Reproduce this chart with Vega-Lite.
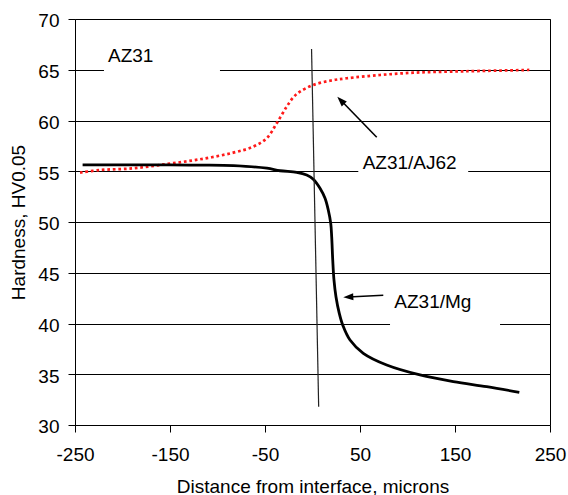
{
  "$schema": "https://vega.github.io/schema/vega-lite/v6.json",
  "width": 475,
  "height": 406,
  "autosize": {"type": "none"},
  "padding": {"left": 75, "top": 19, "right": 18, "bottom": 70},
  "background": "white",
  "config": {
    "view": {"stroke": "black", "strokeWidth": 1},
    "font": "Liberation Sans"
  },
  "datasets": {
    "mg": [
      {"x": -242, "y": 55.62}, {"x": -200, "y": 55.62}, {"x": -150, "y": 55.62},
      {"x": -118, "y": 55.6}, {"x": -83, "y": 55.55}, {"x": -48, "y": 55.3},
      {"x": -34.2, "y": 55.05}, {"x": -16.6, "y": 54.9}, {"x": -6.1, "y": 54.63},
      {"x": 0.8, "y": 54.21}, {"x": 7.9, "y": 53.32}, {"x": 13.2, "y": 52.33},
      {"x": 16.6, "y": 51.18}, {"x": 19.2, "y": 49.87}, {"x": 20.2, "y": 48.55},
      {"x": 21.3, "y": 46.26}, {"x": 22.6, "y": 44.29}, {"x": 24.7, "y": 42.64},
      {"x": 28.2, "y": 41.0}, {"x": 32, "y": 39.8}, {"x": 39.5, "y": 38.37},
      {"x": 53.5, "y": 37.06}, {"x": 78.1, "y": 35.91},
      {"x": 113.2, "y": 34.93}, {"x": 148.2, "y": 34.27}, {"x": 183.4, "y": 33.77},
      {"x": 217.7, "y": 33.22}
    ],
    "aj62": [
      {"x": -244.7, "y": 54.86}, {"x": -223.7, "y": 55.12}, {"x": -188.6, "y": 55.29},
      {"x": -153.5, "y": 55.71}, {"x": -118.4, "y": 56.18}, {"x": -83.4, "y": 56.83},
      {"x": -62.3, "y": 57.43}, {"x": -48.2, "y": 58.25}, {"x": -37.7, "y": 59.72},
      {"x": -27.2, "y": 61.36}, {"x": -20, "y": 62.3}, {"x": -13.2, "y": 62.84},
      {"x": 0.8, "y": 63.5}, {"x": 18.4, "y": 63.92}, {"x": 36, "y": 64.16},
      {"x": 71.1, "y": 64.48}, {"x": 106.1, "y": 64.71}, {"x": 141.3, "y": 64.81},
      {"x": 176.3, "y": 64.88}, {"x": 228.2, "y": 64.98}
    ],
    "interface": [
      {"x": -1, "y": 67.04, "x2": 6.5, "y2": 31.8}
    ],
    "arrows": [
      {"x": 67.6, "y": 58.35, "x2": 29.8, "y2": 61.99, "hx": 26.1, "hy": 62.34, "ang": 316},
      {"x": 74.5, "y": 42.78, "x2": 37.7, "y2": 42.61, "hx": 32.4, "hy": 42.58, "ang": 267}
    ],
    "boxes": [
      {"x": -219.5, "x2": -97.4, "y": 63.5, "y2": 67.5},
      {"x": 48.2, "x2": 163.9, "y": 54.3, "y2": 57.3},
      {"x": 81.6, "x2": 197.4, "y": 38.6, "y2": 44.3}
    ],
    "labels": [
      {"x": -215.3, "y": 65.79, "text": "AZ31"},
      {"x": 52.8, "y": 55.19, "text": "AZ31/AJ62"},
      {"x": 86.1, "y": 41.5, "text": "AZ31/Mg"}
    ]
  },
  "encoding": {
    "x": {
      "field": "x", "type": "quantitative",
      "scale": {"domain": [-250, 250], "nice": false, "zero": false},
      "axis": {
        "title": "Distance from interface, microns",
        "values": [-250, -150, -50, 50, 150, 250],
        "labelExpr": "datum.value + ''",
        "grid": false, "domain": false,
        "tickSize": 7, "tickColor": "black", "tickWidth": 1,
        "labelFontSize": 19, "labelColor": "black", "labelPadding": 13.5,
        "labelFlush": false, "labelOverlap": false, "labelBound": false,
        "titleFontSize": 19, "titleFontWeight": "normal", "titleColor": "black",
        "titleY": 67, "titleBaseline": "alphabetic"
      }
    },
    "y": {
      "field": "y", "type": "quantitative",
      "scale": {"domain": [30, 70], "nice": false, "zero": false},
      "axis": {
        "title": "Hardness, HV0.05",
        "values": [30, 35, 40, 45, 50, 55, 60, 65, 70],
        "grid": true, "gridColor": "black", "gridWidth": 1, "gridOpacity": 1,
        "domain": false,
        "tickSize": 7, "tickColor": "black", "tickWidth": 1,
        "labelFontSize": 19, "labelColor": "black", "labelPadding": 9,
        "labelBaseline": "alphabetic", "labelOffset": 7.8,
        "labelFlush": false, "labelOverlap": false, "labelBound": false,
        "titleFontSize": 19, "titleFontWeight": "normal", "titleColor": "black",
        "titleX": -57, "titleY": 203, "titleBaseline": "middle", "titleAngle": -90
      }
    }
  },
  "layer": [
    {
      "data": {"name": "boxes"},
      "mark": {"type": "rect", "fill": "white", "stroke": null},
      "encoding": {"x2": {"field": "x2"}, "y2": {"field": "y2"}}
    },
    {
      "data": {"name": "aj62"},
      "mark": {"type": "line", "color": "#ff1a1a", "strokeWidth": 2.7, "strokeDash": [2.7, 2.8], "strokeCap": "butt", "interpolate": "catmull-rom"}
    },
    {
      "data": {"name": "mg"},
      "mark": {"type": "line", "color": "black", "strokeWidth": 2.8, "interpolate": "catmull-rom"}
    },
    {
      "data": {"name": "interface"},
      "mark": {"type": "rule", "color": "#222222", "strokeWidth": 1.2},
      "encoding": {"x2": {"field": "x2"}, "y2": {"field": "y2"}}
    },
    {
      "data": {"name": "arrows"},
      "mark": {"type": "rule", "color": "black", "strokeWidth": 1.6},
      "encoding": {"x2": {"field": "x2"}, "y2": {"field": "y2"}}
    },
    {
      "data": {"name": "arrows"},
      "mark": {"type": "point", "shape": "M0,0 L0.42,1.2 L-0.42,1.2 Z", "filled": true, "color": "black", "opacity": 1, "size": 280},
      "encoding": {
        "x": {"field": "hx", "type": "quantitative"},
        "y": {"field": "hy", "type": "quantitative"},
        "angle": {"field": "ang", "type": "quantitative", "scale": null}
      }
    },
    {
      "data": {"name": "labels"},
      "mark": {"type": "text", "align": "left", "baseline": "alphabetic", "fontSize": 19, "color": "black"},
      "encoding": {"text": {"field": "text"}}
    }
  ]
}
